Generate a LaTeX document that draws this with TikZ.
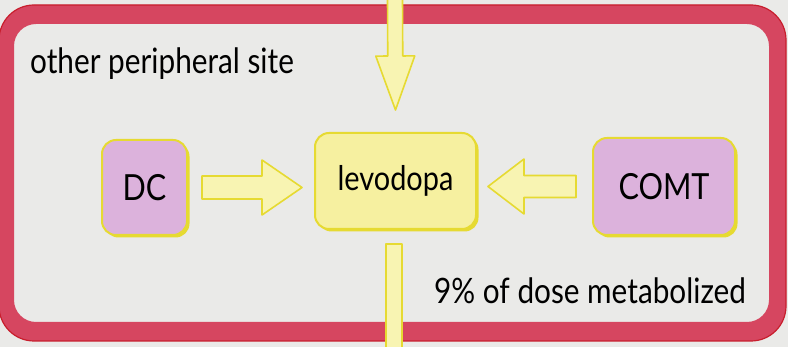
\documentclass[tikz,border=0pt]{standalone}
\usepackage{fontspec}
\setmainfont{Lato}
\newfontfamily\gillf[FakeStretch=0.85]{Lato}
\usetikzlibrary{calc,shadows}
\definecolor{paper}{RGB}{234,234,232}
\definecolor{band}{RGB}{214,70,96}
\definecolor{bandedge}{RGB}{200,30,45}
\definecolor{yelfill}{RGB}{248,244,178}
\definecolor{yeledge}{RGB}{230,218,50}
\definecolor{levfill}{RGB}{246,240,160}
\definecolor{pinkfill}{RGB}{220,178,220}
\tikzset{
  blockarrow/.style n args={3}{draw=yeledge, fill=yelfill, line width=1.6, line join=round,
    to path={let \p1=(\tikztostart), \p2=(\tikztotarget),
      \n1={veclen(\x2-\x1,\y2-\y1)}, \n2={(\x2-\x1)/\n1}, \n3={(\y2-\y1)/\n1} in
      ({\x1-\n3*#1},{\y1+\n2*#1})
      -- ({\x1+\n2*(\n1-#3)-\n3*#1},{\y1+\n3*(\n1-#3)+\n2*#1})
      -- ({\x1+\n2*(\n1-#3)-\n3*#2},{\y1+\n3*(\n1-#3)+\n2*#2})
      -- (\p2)
      -- ({\x1+\n2*(\n1-#3)+\n3*#2},{\y1+\n3*(\n1-#3)-\n2*#2})
      -- ({\x1+\n2*(\n1-#3)+\n3*#1},{\y1+\n3*(\n1-#3)-\n2*#1})
      -- ({\x1+\n3*#1},{\y1-\n2*#1}) -- cycle}},
  boxbase/.style={rounded corners=14, draw=yeledge, line width=2, inner sep=0,
    drop shadow={shadow xshift=2.5pt, shadow yshift=-2.5pt, fill=yeledge, opacity=1}},
  levbox/.style={boxbase, fill=levfill, font=\gillf\fontsize{34}{40}\selectfont},
  enzbox/.style={boxbase, fill=pinkfill, font=\gillf\fontsize{36}{42}\selectfont},
  plain/.style={inner sep=0, anchor=base west, font=\gillf\fontsize{35}{41}\selectfont}
}
\begin{document}
\begin{tikzpicture}[x=1pt,y=-1pt]
\useasboundingbox (0,0) rectangle (788,347);
\fill[paper] (0,0) rectangle (788,347);
% frame
\fill[band, even odd rule] [rounded corners=35] (-1,5) rectangle (786,341)
  [rounded corners=22] (14,24) rectangle (769,322);
\draw[bandedge, line width=1.2, rounded corners=35] (-1,5) rectangle (786,341);
% nodes
\node[levbox, minimum width=161, minimum height=96] (lev) at (395.5,181) {levodopa};
\node[enzbox, minimum width=85, minimum height=95] (dc) at (144.5,187.5) {DC};
\node[enzbox, minimum width=142, minimum height=97] (comt) at (664,186.5) {COMT};
\coordinate (topsrc) at (395,-3);
\coordinate (botout) at (394,352);
% arrows
\draw[blockarrow={7.5}{19.5}{54}] (topsrc) to ([yshift=22]lev.north);
\draw[blockarrow={8}{8}{0}] ($(lev.south -| botout)+(0,14)$) to (botout);
\draw[blockarrow={11.5}{27.5}{40}] ([xshift=14]dc.east) to ($(lev.west |- dc.east)+(-12,0)$);
\draw[blockarrow={11}{27.5}{36}] ([xshift=-16]comt.west) to ($(lev.east |- comt.west)+(11,0)$);
% texts
\node[plain] (site) at (30,74) {other peripheral site};
\node[plain] (dose) at (434,304) {9\% of dose metabolized};
\end{tikzpicture}
\end{document}
